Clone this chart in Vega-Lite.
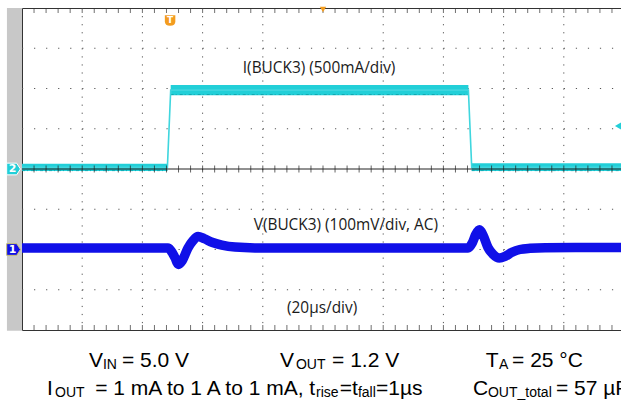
{
  "$schema": "https://vega.github.io/schema/vega-lite/v6.json",
  "width": 599,
  "height": 322,
  "autosize": {"type": "none"},
  "padding": {"left": 22, "top": 8, "right": 0, "bottom": 73},
  "background": "white",
  "config": {"view": {"stroke": "#333333", "strokeWidth": 1}},
  "resolve": {"scale": {"y": "independent"}},
  "datasets": {
    "strip": [{"t0": -105, "t1": -100, "d0": -4.02, "d1": 4}],
    "gridx": [{"t": -80}, {"t": -60}, {"t": -40}, {"t": -20}, {"t": 20}, {"t": 40}, {"t": 60}, {"t": 80}],
    "gridy": [{"d": -3}, {"d": -2}, {"d": -1}, {"d": 1}, {"d": 2}, {"d": 3}],
    "xminor": [{"t": -96}, {"t": -92}, {"t": -88}, {"t": -84}, {"t": -80}, {"t": -76}, {"t": -72}, {"t": -68}, {"t": -64}, {"t": -60}, {"t": -56}, {"t": -52}, {"t": -48}, {"t": -44}, {"t": -40}, {"t": -36}, {"t": -32}, {"t": -28}, {"t": -24}, {"t": -20}, {"t": -16}, {"t": -12}, {"t": -8}, {"t": -4}, {"t": 0}, {"t": 4}, {"t": 8}, {"t": 12}, {"t": 16}, {"t": 20}, {"t": 24}, {"t": 28}, {"t": 32}, {"t": 36}, {"t": 40}, {"t": 44}, {"t": 48}, {"t": 52}, {"t": 56}, {"t": 60}, {"t": 64}, {"t": 68}, {"t": 72}, {"t": 76}, {"t": 80}, {"t": 84}, {"t": 88}, {"t": 92}, {"t": 96}],
    "yminor": [{"d": -3.8}, {"d": -3.6}, {"d": -3.4}, {"d": -3.2}, {"d": -3.0}, {"d": -2.8}, {"d": -2.6}, {"d": -2.4}, {"d": -2.2}, {"d": -2.0}, {"d": -1.8}, {"d": -1.6}, {"d": -1.4}, {"d": -1.2}, {"d": -1.0}, {"d": -0.8}, {"d": -0.6}, {"d": -0.4}, {"d": -0.2}, {"d": 0}, {"d": 0.2}, {"d": 0.4}, {"d": 0.6}, {"d": 0.8}, {"d": 1.0}, {"d": 1.2}, {"d": 1.4}, {"d": 1.6}, {"d": 1.8}, {"d": 2.0}, {"d": 2.2}, {"d": 2.4}, {"d": 2.6}, {"d": 2.8}, {"d": 3.0}, {"d": 3.2}, {"d": 3.4}, {"d": 3.6}, {"d": 3.8}],
    "currentBand": [
      {"seg": "low1", "t": -100, "lo": -0.025, "hi": 0.065},
      {"seg": "low1", "t": -51.7, "lo": -0.025, "hi": 0.065},
      {"seg": "high", "t": -50.6, "lo": 0.915, "hi": 1.045},
      {"seg": "high", "t": 48.3, "lo": 0.915, "hi": 1.045},
      {"seg": "low2", "t": 49.4, "lo": -0.025, "hi": 0.07},
      {"seg": "low2", "t": 99, "lo": -0.025, "hi": 0.07}
    ],
    "currentTrace": [
      {"t": -100, "a": 0.02}, {"t": -51.7, "a": 0.02}, {"t": -50.6, "a": 0.98},
      {"t": 48.3, "a": 0.98}, {"t": 49.4, "a": 0.02}, {"t": 99, "a": 0.02}
    ],
    "currentEdge": [
      {"seg": "low1", "t": -100, "a": -0.02}, {"seg": "low1", "t": -51.7, "a": -0.02},
      {"seg": "high", "t": -50.6, "a": 0.925}, {"seg": "high", "t": 48.3, "a": 0.925},
      {"seg": "low2", "t": 49.4, "a": -0.02}, {"seg": "low2", "t": 99, "a": -0.02}
    ],
    "voltageTrace": [
      {"t": -100, "mv": 3.5}, {"t": -75, "mv": 3.8}, {"t": -51.5, "mv": 3.7}, {"t": -50.5, "mv": -3},
      {"t": -49.2, "mv": -20}, {"t": -48, "mv": -37}, {"t": -46.8, "mv": -28}, {"t": -44.9, "mv": 3},
      {"t": -43.2, "mv": 22}, {"t": -41.5, "mv": 32}, {"t": -39.5, "mv": 27}, {"t": -36.9, "mv": 18},
      {"t": -33.6, "mv": 11}, {"t": -29.2, "mv": 6}, {"t": -22.6, "mv": 4}, {"t": 0, "mv": 3.5},
      {"t": 25, "mv": 3.8}, {"t": 48.2, "mv": 3.7}, {"t": 49.5, "mv": 15}, {"t": 50.8, "mv": 38},
      {"t": 52, "mv": 49}, {"t": 53.2, "mv": 35}, {"t": 54.8, "mv": 5}, {"t": 56.5, "mv": -12},
      {"t": 58.6, "mv": -21}, {"t": 60.5, "mv": -17}, {"t": 62.8, "mv": -7}, {"t": 65.4, "mv": 0},
      {"t": 68.8, "mv": 3}, {"t": 73.8, "mv": 4.5}, {"t": 99, "mv": 5}
    ],
    "channels": [{"ch": "1", "t": -102.8, "d": -2}, {"ch": "2", "t": -102.8, "d": 0}],
    "traceLabels": [
      {"label": "I(BUCK3) (500mA/div)", "t": -1.3, "d": 2.51},
      {"label": "V(BUCK3) (100mV/div, AC)", "t": 7.6, "d": -1.39},
      {"label": "(20µs/div)", "t": -0.3, "d": -3.45}
    ],
    "captionMain": [
      {"s": "V", "t": -77.7, "d": -4.92},
      {"s": "= 5.0 V", "t": -66.8, "d": -4.92},
      {"s": "V", "t": -14.3, "d": -4.92},
      {"s": "= 1.2 V", "t": 3.0, "d": -4.92},
      {"s": "T", "t": 54.1, "d": -4.92},
      {"s": "= 25 °C", "t": 62.8, "d": -4.92},
      {"s": "I", "t": -91.7, "d": -5.615},
      {"s": "= 1 mA to 1 A to 1 mA, t", "t": -75.7, "d": -5.615},
      {"s": "=t", "t": 5.6, "d": -5.615},
      {"s": "=1µs", "t": 17.6, "d": -5.615},
      {"s": "C", "t": 49.8, "d": -5.615},
      {"s": "= 57 µF", "t": 77.4, "d": -5.615}
    ],
    "captionSub": [
      {"s": "IN", "t": -73.1, "d": -4.98},
      {"s": "OUT", "t": -9.0, "d": -4.98},
      {"s": "A", "t": 58.5, "d": -4.98},
      {"s": "OUT", "t": -89.0, "d": -5.665},
      {"s": "rise", "t": -2.3, "d": -5.665},
      {"s": "fall", "t": 11.6, "d": -5.665},
      {"s": "OUT_total", "t": 54.8, "d": -5.665}
    ]
  },
  "encoding": {
    "x": {"field": "t", "type": "quantitative", "scale": {"domain": [-100, 99], "nice": false, "zero": false}, "axis": null}
  },
  "layer": [
    {
      "data": {"name": "gridx"},
      "mark": {"type": "rule", "color": "#555555", "strokeWidth": 1, "strokeDash": [1.2, 6.85]},
      "encoding": {}
    },
    {
      "data": {"name": "gridy"},
      "mark": {"type": "rule", "color": "#555555", "strokeWidth": 1, "strokeDash": [1.2, 10.84]},
      "encoding": {
        "x": {"value": 0},
        "x2": {"value": 599},
        "y": {"field": "d", "type": "quantitative", "scale": {"domain": [-4, 4], "nice": false, "zero": false}, "axis": null}
      }
    },
    {
      "data": {"name": "currentBand"},
      "mark": {"type": "area", "orient": "vertical", "color": "#22cfd8", "opacity": 1},
      "encoding": {
        "y": {"field": "lo", "type": "quantitative", "scale": {"domain": [-2, 2], "nice": false, "zero": false}, "axis": null},
        "y2": {"field": "hi"},
        "detail": {"field": "seg"}
      }
    },
    {
      "data": {"name": "currentEdge"},
      "mark": {"type": "line", "color": "#0f9ea6", "strokeWidth": 1, "strokeDash": [3, 2, 1, 3], "opacity": 0.8},
      "encoding": {
        "y": {"field": "a", "type": "quantitative", "scale": {"domain": [-2, 2], "nice": false, "zero": false}, "axis": null},
        "detail": {"field": "seg"}
      }
    },
    {
      "data": {"name": "currentTrace"},
      "mark": {"type": "line", "color": "#3fd6de", "strokeWidth": 1.6},
      "encoding": {
        "y": {"field": "a", "type": "quantitative", "scale": {"domain": [-2, 2], "nice": false, "zero": false}, "axis": null}
      }
    },
    {
      "data": {"name": "voltageTrace"},
      "mark": {"type": "line", "color": "#1010e8", "strokeWidth": 9.5, "strokeJoin": "round", "interpolate": "monotone"},
      "encoding": {
        "y": {"field": "mv", "type": "quantitative", "scale": {"domain": [-200, 600], "nice": false, "zero": false}, "axis": null}
      }
    },
    {
      "data": {"values": [{}]},
      "mark": {"type": "rule", "color": "#222222", "strokeWidth": 1},
      "encoding": {
        "x": {"datum": 0, "type": "quantitative", "scale": {"domain": [-100, 99], "nice": false, "zero": false}, "axis": null}
      }
    },
    {
      "data": {"values": [{}]},
      "mark": {"type": "rule", "color": "#222222", "strokeWidth": 1},
      "encoding": {
        "x": {"value": 0},
        "x2": {"value": 599},
        "y": {"datum": 0, "type": "quantitative", "scale": {"domain": [-4, 4], "nice": false, "zero": false}, "axis": null}
      }
    },
    {
      "data": {"values": [{}]},
      "mark": {"type": "rule", "color": "#555555", "strokeWidth": 2.5, "yOffset": 1},
      "encoding": {
        "x": {"datum": -100, "type": "quantitative", "scale": {"domain": [-100, 99], "nice": false, "zero": false}, "axis": null},
        "x2": {"datum": 75.4},
        "y": {"datum": -4, "type": "quantitative", "scale": {"domain": [-4, 4], "nice": false, "zero": false}, "axis": null}
      }
    },
    {
      "data": {"name": "xminor"},
      "mark": {"type": "tick", "orient": "vertical", "color": "#222222", "size": 7, "thickness": 1},
      "encoding": {
        "y": {"datum": 0, "type": "quantitative", "scale": {"domain": [-4, 4], "nice": false, "zero": false}, "axis": null}
      }
    },
    {
      "data": {"name": "xminor"},
      "mark": {"type": "tick", "orient": "vertical", "color": "#333333", "size": 5, "thickness": 1, "yOffset": 2.5},
      "encoding": {
        "y": {"datum": 4, "type": "quantitative", "scale": {"domain": [-4, 4], "nice": false, "zero": false}, "axis": null}
      }
    },
    {
      "data": {"name": "xminor"},
      "mark": {"type": "tick", "orient": "vertical", "color": "#333333", "size": 5, "thickness": 1, "yOffset": -2.5},
      "encoding": {
        "y": {"datum": -4, "type": "quantitative", "scale": {"domain": [-4, 4], "nice": false, "zero": false}, "axis": null}
      }
    },
    {
      "data": {"name": "yminor"},
      "mark": {"type": "tick", "orient": "horizontal", "color": "#222222", "size": 7, "thickness": 1},
      "encoding": {
        "x": {"datum": 0, "type": "quantitative", "scale": {"domain": [-100, 99], "nice": false, "zero": false}, "axis": null},
        "y": {"field": "d", "type": "quantitative", "scale": {"domain": [-4, 4], "nice": false, "zero": false}, "axis": null}
      }
    },
    {
      "data": {"name": "yminor"},
      "mark": {"type": "tick", "orient": "horizontal", "color": "#333333", "size": 5, "thickness": 1, "xOffset": 2.5},
      "encoding": {
        "x": {"datum": -100, "type": "quantitative", "scale": {"domain": [-100, 99], "nice": false, "zero": false}, "axis": null},
        "y": {"field": "d", "type": "quantitative", "scale": {"domain": [-4, 4], "nice": false, "zero": false}, "axis": null}
      }
    },
    {
      "data": {"name": "strip"},
      "mark": {"type": "rect", "fill": "#c8c8c8", "opacity": 1},
      "encoding": {
        "x": {"field": "t0", "type": "quantitative", "scale": {"domain": [-100, 99], "nice": false, "zero": false}, "axis": null},
        "x2": {"field": "t1"},
        "y": {"field": "d0", "type": "quantitative", "scale": {"domain": [-4, 4], "nice": false, "zero": false}, "axis": null},
        "y2": {"field": "d1"}
      }
    },
    {
      "data": {"name": "channels"},
      "mark": {"type": "point", "filled": true, "opacity": 1, "size": 190, "shape": "M-1,-0.85 L0.45,-0.85 L1,0 L0.45,0.85 L-1,0.85 Z", "strokeWidth": 1},
      "encoding": {
        "y": {"field": "d", "type": "quantitative", "scale": {"domain": [-4, 4], "nice": false, "zero": false}, "axis": null},
        "color": {"field": "ch", "type": "nominal", "scale": {"domain": ["1", "2"], "range": ["#1010e8", "#22cfd8"]}, "legend": null},
        "stroke": {"field": "ch", "type": "nominal", "scale": {"domain": ["1", "2"], "range": ["#c8c070", "#ffffff"]}, "legend": null}
      }
    },
    {
      "data": {"name": "channels"},
      "mark": {"type": "text", "color": "white", "font": "DejaVu Sans", "fontSize": 11, "fontWeight": "bold", "dx": -1, "baseline": "middle", "align": "center"},
      "encoding": {
        "y": {"field": "d", "type": "quantitative", "scale": {"domain": [-4, 4], "nice": false, "zero": false}, "axis": null},
        "text": {"field": "ch"}
      }
    },
    {
      "data": {"values": [{"t": -50.8, "d": 3.69, "s": "T"}]},
      "mark": {"type": "point", "filled": true, "opacity": 1, "color": "#f39c1f", "size": 110, "shape": "M-1,-1 L1,-1 L1,0.2 Q1,1 0,1 Q-1,1 -1,0.2 Z"},
      "encoding": {
        "y": {"field": "d", "type": "quantitative", "scale": {"domain": [-4, 4], "nice": false, "zero": false}, "axis": null}
      }
    },
    {
      "data": {"values": [{"t": -50.8, "d": 3.69, "s": "T"}]},
      "mark": {"type": "text", "color": "white", "font": "DejaVu Sans", "fontSize": 9, "fontWeight": "bold", "baseline": "middle", "align": "center"},
      "encoding": {
        "y": {"field": "d", "type": "quantitative", "scale": {"domain": [-4, 4], "nice": false, "zero": false}, "axis": null},
        "text": {"field": "s"}
      }
    },
    {
      "data": {"values": [{"t": 0, "d": 3.96}]},
      "mark": {"type": "point", "filled": true, "opacity": 1, "color": "#f39c1f", "size": 40, "shape": "triangle-down"},
      "encoding": {
        "y": {"field": "d", "type": "quantitative", "scale": {"domain": [-4, 4], "nice": false, "zero": false}, "axis": null}
      }
    },
    {
      "data": {"values": [{"t": 98.0, "d": 1.07}]},
      "mark": {"type": "point", "filled": true, "opacity": 1, "color": "#22cfd8", "size": 50, "shape": "triangle-left"},
      "encoding": {
        "y": {"field": "d", "type": "quantitative", "scale": {"domain": [-4, 4], "nice": false, "zero": false}, "axis": null}
      }
    },
    {
      "data": {"name": "traceLabels"},
      "mark": {"type": "text", "color": "#1a1a1a", "font": "Open Sans", "fontSize": 15.4, "baseline": "middle", "align": "center"},
      "encoding": {
        "y": {"field": "d", "type": "quantitative", "scale": {"domain": [-4, 4], "nice": false, "zero": false}, "axis": null},
        "text": {"field": "label"}
      }
    },
    {
      "data": {"name": "captionMain"},
      "mark": {"type": "text", "color": "#000000", "font": "Liberation Sans", "fontSize": 21, "baseline": "alphabetic", "align": "left"},
      "encoding": {
        "y": {"field": "d", "type": "quantitative", "scale": {"domain": [-4, 4], "nice": false, "zero": false}, "axis": null},
        "text": {"field": "s"}
      }
    },
    {
      "data": {"name": "captionSub"},
      "mark": {"type": "text", "color": "#000000", "font": "Liberation Sans", "fontSize": 14, "baseline": "alphabetic", "align": "left"},
      "encoding": {
        "y": {"field": "d", "type": "quantitative", "scale": {"domain": [-4, 4], "nice": false, "zero": false}, "axis": null},
        "text": {"field": "s"}
      }
    }
  ]
}
